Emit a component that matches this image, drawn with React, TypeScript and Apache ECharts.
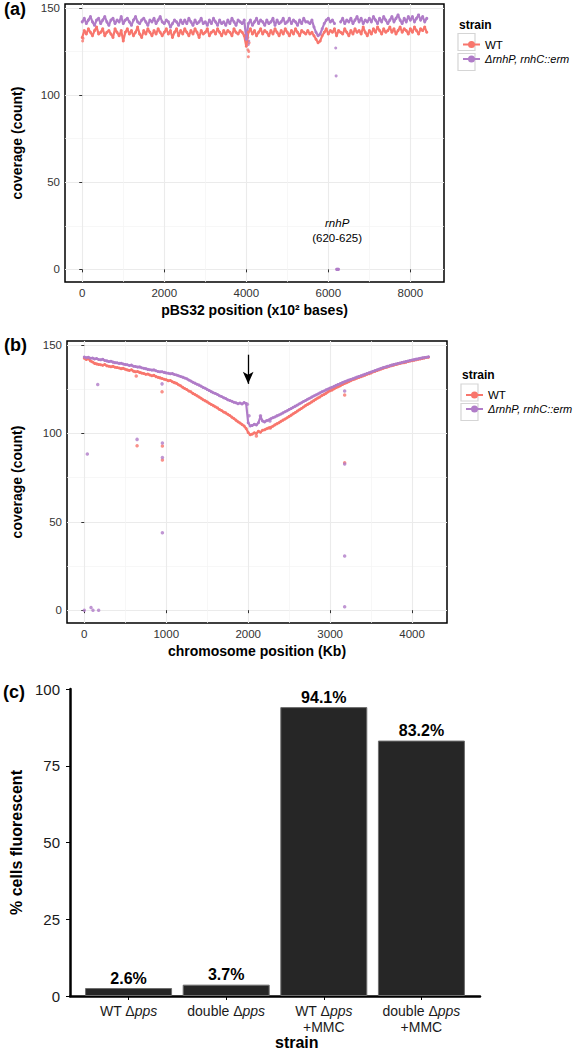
import React, { useEffect, useRef } from 'react';
import * as echarts from 'echarts';

const FONT = '"Liberation Sans", Arial, Helvetica, sans-serif';
const WT_COLOR = '#F8766D';
const MUT_COLOR = '#B07CC8';
const WT_NAME = 'WT';
const MUT_NAME = 'ΔrnhP, rnhC::erm';

// ---------- Panel (a): pBS32 coverage, bins every 50 (x10^2 bases) ----------
const A_START = 0;
const A_STEP = 50;
const A_WT = [
  133, 137, 135, 138, 136, 134, 137, 139, 135, 136,
  138, 134, 136, 137, 135, 133, 138, 136, 134, 137,
  131, 136, 138, 135, 137, 134, 136, 139, 135, 133,
  137, 135, 138, 136, 134, 137, 135, 138, 136, 134,
  136, 138, 135, 137, 133, 136, 138, 134, 137, 135,
  138, 136, 134, 137, 135, 138, 136, 133, 137, 135,
  136, 138, 134, 136, 137, 135, 138, 136, 134, 137,
  135, 137, 136, 134, 138, 136, 135, 137, 136, 134,
  128, 136, 138, 135, 137, 134, 136, 138, 135, 137,
  136, 134, 137, 135, 138, 136, 134, 137, 135, 138,
  136, 134, 137, 135, 138, 136, 134, 137, 136, 135,
  137, 135, 136, 134, 132, 130, 131, 134, 136, 138,
  135, 137, 136, 138, 134, 137, 136, 135, 138, 136,
  134, 137, 135, 138, 136, 137, 135, 139, 136, 134,
  137, 135, 138, 136, 139, 137, 135, 138, 136, 137,
  139, 136, 138, 135, 137, 139, 136, 138, 137, 135,
  138, 136, 139, 137, 135, 138, 137, 139, 136,
];
// null = deleted rnhP bins (plotted as the zero points in A_MUT_EXTRA)
const A_MUT = [
  142, 144, 141, 143, 145, 142, 140, 143, 144, 141,
  143, 145, 142, 140, 143, 144, 141, 143, 142, 145,
  141, 143, 144, 142, 140, 143, 145, 142, 141, 143,
  144, 142, 140, 143, 142, 144, 141, 143, 145, 142,
  141, 143, 142, 139, 141, 143, 142, 140, 143, 141,
  143, 141, 144, 142, 140, 143, 141, 142, 144, 141,
  142, 140, 143, 141, 144, 142, 140, 143, 141, 142,
  140, 143, 141, 144, 142, 140, 143, 142, 141, 143,
  132, 141, 143, 140, 142, 144, 141, 143, 142, 140,
  143, 141, 142, 144, 140, 143, 141, 142, 144, 141,
  142, 144, 141, 143, 142, 140, 143, 141, 144, 142,
  142, 141, 143, 139, 136, 134, 135, 138, 141, 143,
  144, 142, 143, 141, null, null, 142, 144, 141, 143,
  142, 144, 141, 143, 145, 142, 144, 141, 143, 142,
  144, 142, 145, 143, 141, 144, 142, 145, 143, 141,
  143, 145, 142, 144, 146, 143, 141, 144, 142, 145,
  143, 145, 142, 144, 146, 143, 145, 142, 144,
];
const A_WT_EXTRA = [[10, 131], [20, 132.5], [4030, 131], [4040, 126], [4050, 122], [4060, 125], [4070, 130]];
const A_MUT_EXTRA = [
  [4040, 133], [4050, 129], [4060, 131], [6180, 127], [6190, 111],
  [6200, 0], [6210, 0], [6220, 0], [6230, 0], [6240, 0], [6250, 0],
];
const A_X_TICKS = [0, 2000, 4000, 6000, 8000];
const A_X_MINOR = [1000, 3000, 5000, 7000];

// ---------- Panel (b): chromosome coverage, bins every 25 Kb ----------
const B_START = 0;
const B_STEP = 25;
const B_WT = [
  142.5, 141.8, 142.2, 141.0, 140.4, 139.6, 139.3, 139.0,
  138.8, 138.5, 138.9, 138.2, 138.0, 137.7, 137.9, 137.4,
  137.2, 137.0, 136.6, 136.8, 136.3, 135.9, 135.6, 136.0,
  135.2, 134.8, 135.0, 134.5, 134.1, 133.9, 133.4, 133.6,
  133.0, 132.6, 132.8, 132.1, 131.7, 131.4, 131.0, 130.6,
  130.3, 129.8, 129.9, 129.2, 128.7, 128.3, 127.5, 126.9,
  126.1, 125.4, 124.8, 124.0, 123.5, 122.6, 122.0, 121.3,
  120.6, 119.9, 119.0, 118.4, 117.8, 117.0, 116.3, 115.7,
  115.0, 114.4, 113.5, 112.9, 112.1, 111.6, 110.8, 110.1,
  109.2, 108.4, 107.5, 106.6, 105.9, 105.0, 104.2, 102.8,
  100.5, 99.2, 99.6, 100.3, 100.0, 101.2, 100.6, 101.8,
  102.0, 102.6, 103.1, 103.5, 104.0, 104.8, 105.4, 106.0,
  106.8, 107.5, 108.1, 108.8, 109.6, 110.3, 111.1, 111.8,
  112.6, 113.4, 114.1, 114.9, 115.7, 116.4, 117.0, 117.8,
  118.5, 119.3, 120.0, 120.6, 121.4, 122.0, 122.7, 123.5,
  124.1, 124.6, 125.3, 125.9, 126.4, 127.0, 127.6, 128.2,
  128.7, 129.2, 129.8, 130.3, 130.7, 131.2, 131.6, 132.1,
  132.5, 132.9, 133.4, 133.8, 134.2, 134.8, 135.1, 135.6,
  136.0, 136.4, 136.9, 137.2, 137.6, 138.0, 138.3, 138.6,
  138.9, 139.2, 139.5, 139.8, 140.0, 140.3, 140.6, 140.9,
  141.1, 141.4, 141.6, 141.9, 142.1, 142.4, 142.6, 142.9,
  143.1,
];
const B_MUT = [
  143.2, 142.8, 143.0, 142.5, 142.6, 142.1, 142.3, 141.8,
  141.6, 141.9, 141.2, 141.0, 140.6, 140.8, 140.3, 140.0,
  139.9, 139.6, 139.7, 139.2, 139.0, 138.8, 138.4, 138.6,
  138.0, 137.8, 137.5, 137.6, 137.1, 136.8, 136.6, 136.2,
  136.0, 135.8, 135.9, 135.4, 135.0, 134.8, 134.9, 134.5,
  134.2, 134.0, 133.7, 133.8, 133.3, 133.0, 132.6, 132.2,
  131.8, 131.3, 130.9, 130.2, 129.6, 128.9, 128.4, 127.8,
  127.3, 126.7, 126.0, 125.5, 124.8, 124.2, 123.6, 123.0,
  122.5, 122.0, 121.3, 120.8, 120.2, 119.7, 119.0, 118.6,
  118.2, 117.6, 117.3, 116.8, 117.2, 116.6, 117.4, 116.9,
  106.0, 104.2, 104.5, 105.2, 104.8, 106.0, 109.5, 107.0,
  106.5, 107.2, 107.6, 108.3, 108.8, 109.3, 109.9, 110.4,
  111.0, 111.6, 112.2, 112.8, 113.5, 114.1, 114.8, 115.4,
  116.0, 116.7, 117.3, 118.0, 118.6, 119.3, 119.9, 120.5,
  121.1, 121.7, 122.3, 122.9, 123.5, 124.0, 124.6, 125.1,
  125.6, 126.1, 126.6, 127.2, 127.7, 128.2, 128.7, 129.2,
  129.6, 130.1, 130.5, 130.9, 131.3, 131.8, 132.2, 132.6,
  133.0, 133.4, 133.9, 134.3, 134.7, 135.1, 135.6, 136.0,
  136.4, 136.8, 137.2, 137.5, 137.9, 138.2, 138.6, 138.9,
  139.2, 139.5, 139.8, 140.1, 140.4, 140.6, 140.9, 141.2,
  141.5, 141.7, 142.0, 142.2, 142.5, 142.7, 142.9, 143.1,
  143.3,
];
const B_WT_EXTRA = [
  [634, 132.5], [644, 93], [949, 123.6], [953, 92.9], [953, 84.9], [2100, 98.5],
  [2270, 103], [3177, 121.7], [3177, 83.4],
];
const B_MUT_EXTRA = [
  [0, 0], [37, 88.3], [82, 1.5], [106, 0], [164, 127.7], [175, 0], [644, 96.6],
  [949, 128], [953, 94.5], [953, 86.4], [953, 43.8], [1990, 116.5], [2010, 110],
  [2150, 110], [2265, 107], [3177, 124], [3177, 82.7], [3177, 30.6], [3177, 2],
];
const B_X_TICKS = [0, 1000, 2000, 3000, 4000];
const B_X_MINOR = [500, 1500, 2500, 3500];
const B_ARROW_X = 2000;

const COV_Y_TICKS = [0, 50, 100, 150];
const COV_Y_MINOR = [25, 75, 125];

// ---------- Panel (c): % cells fluorescent ----------
const C_CATEGORIES = ['WT Δpps', 'double Δpps', 'WT Δpps +MMC', 'double Δpps +MMC'];
const C_VALUES = [2.6, 3.7, 94.1, 83.2];
const C_POS = [1, 2, 3, 4];

const ICON = 'path://M0,7.6H17V9.4H0Z M5,8.5A3.5,3.5,0,1,1,12,8.5A3.5,3.5,0,1,1,5,8.5Z';

function pairs(start: number, step: number, vals: (number | null)[]) {
  return vals.map((v, i) => [start + i * step, v]);
}

function catLabel(name: string) {
  return name.replace('pps', '{i|pps}').replace(' +MMC', '\n+MMC');
}

function majorX(gridIndex: number, min: number, max: number, ticks: number[], name: string) {
  return {
    gridIndex, type: 'value', min, max,
    axisLine: { show: false },
    axisTick: { show: true, customValues: ticks, length: 3, lineStyle: { color: '#333', width: 1 } },
    axisLabel: { customValues: ticks, formatter: (v: number) => String(v), fontSize: 11.5, color: '#333', margin: 5, fontFamily: FONT },
    splitLine: { show: true, lineStyle: { color: '#ebebeb', width: 1.1 } },
    name, nameLocation: 'middle', nameGap: 21,
    nameTextStyle: { fontWeight: 'bold', fontSize: 14, color: '#000', fontFamily: FONT },
  };
}
function majorY(gridIndex: number, name: string, nameGap: number) {
  return {
    gridIndex, type: 'value', min: -7.25, max: 152.25,
    axisLine: { show: false },
    axisTick: { show: true, customValues: COV_Y_TICKS, length: 3, lineStyle: { color: '#333', width: 1 } },
    axisLabel: { customValues: COV_Y_TICKS, formatter: (v: number) => String(v), fontSize: 11.5, color: '#333', margin: 5, fontFamily: FONT },
    splitLine: { show: true, lineStyle: { color: '#ebebeb', width: 1.1 } },
    name, nameLocation: 'middle', nameGap,
    nameTextStyle: { fontWeight: 'bold', fontSize: 14, color: '#000', fontFamily: FONT },
  };
}
function minorAxis(gridIndex: number, min: number, max: number, values: number[]) {
  return {
    gridIndex, type: 'value', min, max, show: true,
    axisLine: { show: false },
    axisTick: { show: false, customValues: values },
    axisLabel: { show: false, customValues: values },
    splitLine: { show: true, lineStyle: { color: '#f4f4f4', width: 0.7 } },
  };
}

function legendFor(left: number, top: number, gap: number) {
  return {
    left, top, orient: 'vertical', itemWidth: 17, itemHeight: 17, itemGap: gap,
    selectedMode: false, symbolKeepAspect: true,
    data: [{ name: WT_NAME, icon: ICON }, { name: MUT_NAME, icon: ICON }],
    formatter: (n: string) => (n === MUT_NAME ? `{i|${n}}` : n),
    textStyle: {
      fontSize: 11.5, color: '#000', fontFamily: FONT,
      rich: { i: { fontStyle: 'italic', fontSize: 11, color: '#000', fontFamily: FONT } },
    },
  };
}

function keyBoxes(left: number, top: number, gap: number) {
  return [0, 1].map((k) => ({
    type: 'rect', z: 0,
    shape: { x: left, y: top + k * (17 + gap), width: 17, height: 17 },
    style: { fill: '#fff', stroke: '#d5d5d5', lineWidth: 1.2 },
  }));
}

function lineSeries(name: string, color: string, xi: number, data: any[], width: number, size: number) {
  return {
    type: 'line', name, xAxisIndex: xi, yAxisIndex: xi, silent: true,
    symbol: 'circle', symbolSize: size, showSymbol: true, showAllSymbol: true,
    connectNulls: false,
    itemStyle: { color }, lineStyle: { color, width },
    data,
  };
}
function dotSeries(name: string, color: string, xi: number, data: any[], size: number) {
  return {
    type: 'scatter', name, xAxisIndex: xi, yAxisIndex: xi, silent: true,
    symbol: 'circle', symbolSize: size, itemStyle: { color }, data,
  };
}

function buildOption() {
  return {
    animation: false,
    textStyle: { fontFamily: FONT },
    grid: [
      { left: 65, top: 4, width: 379, height: 278, show: true, borderColor: '#000', borderWidth: 1.5, backgroundColor: '#fff' },
      { left: 67, top: 341, width: 380, height: 282, show: true, borderColor: '#000', borderWidth: 1.5, backgroundColor: '#fff' },
      { left: 70, top: 689, width: 410, height: 307 },
    ],
    xAxis: [
      majorX(0, -420, 8820, A_X_TICKS, 'pBS32 position (x10² bases)'),
      minorAxis(0, -420, 8820, A_X_MINOR),
      majorX(1, -211, 4426, B_X_TICKS, 'chromosome position (Kb)'),
      minorAxis(1, -211, 4426, B_X_MINOR),
      {
        gridIndex: 2, type: 'value', min: 0.4, max: 4.6,
        axisLine: { show: true, lineStyle: { color: '#000', width: 2.5 } },
        axisTick: { show: true, customValues: C_POS, length: 4, lineStyle: { color: '#000', width: 1 } },
        axisLabel: {
          customValues: C_POS,
          formatter: (v: number) => catLabel(C_CATEGORIES[Math.round(v) - 1] || ''),
          fontSize: 14, lineHeight: 16, color: '#1a1a1a', margin: 7, fontFamily: FONT,
          rich: { i: { fontStyle: 'italic', fontSize: 14, lineHeight: 16, color: '#1a1a1a', fontFamily: FONT } },
        },
        splitLine: { show: false },
      },
    ],
    yAxis: [
      majorY(0, 'coverage (count)', 41),
      minorAxis(0, -7.25, 152.25, COV_Y_MINOR),
      majorY(1, 'coverage (count)', 43),
      minorAxis(1, -7.25, 152.25, COV_Y_MINOR),
      {
        gridIndex: 2, type: 'value', min: 0, max: 100, interval: 25,
        axisLine: { show: true, lineStyle: { color: '#000', width: 2.5 } },
        axisTick: { show: true, length: 4, lineStyle: { color: '#000', width: 1 } },
        axisLabel: { fontSize: 15, color: '#1a1a1a', margin: 10, fontFamily: FONT },
        splitLine: { show: false },
        name: '% cells fluorescent', nameLocation: 'middle', nameGap: 45,
        nameTextStyle: { fontWeight: 'bold', fontSize: 16, color: '#000', fontFamily: FONT },
      },
    ],
    legend: [legendFor(458, 33.5, 3), legendFor(461, 384, 2.5)],
    graphic: [
      ...keyBoxes(458, 33.5, 3),
      ...keyBoxes(461, 384, 2.5),
      { type: 'text', left: 4, top: 0, style: { text: '(a)', font: `bold 18px ${FONT}`, fill: '#000' } },
      { type: 'text', left: 4, top: 336, style: { text: '(b)', font: `bold 18px ${FONT}`, fill: '#000' } },
      { type: 'text', left: 3, top: 683, style: { text: '(c)', font: `bold 18px ${FONT}`, fill: '#000' } },
      { type: 'text', left: 459, top: 19, style: { text: 'strain', font: `bold 12px ${FONT}`, fill: '#000' } },
      { type: 'text', left: 462, top: 369, style: { text: 'strain', font: `bold 12px ${FONT}`, fill: '#000' } },
      { type: 'text', left: 275, top: 1034, style: { text: 'strain', font: `bold 16px ${FONT}`, fill: '#000' } },
    ],
    series: [
      lineSeries(WT_NAME, WT_COLOR, 0, pairs(A_START, A_STEP, A_WT), 2.2, 3),
      dotSeries(WT_NAME, WT_COLOR, 0, A_WT_EXTRA, 3),
      lineSeries(MUT_NAME, MUT_COLOR, 0, pairs(A_START, A_STEP, A_MUT), 2.2, 3),
      {
        ...dotSeries(MUT_NAME, MUT_COLOR, 0, A_MUT_EXTRA, 3),
        markPoint: {
          silent: true, symbol: 'circle', symbolSize: 0,
          label: {
            show: true, position: 'inside', formatter: '{i|rnhP}\n{n|(620-625)}',
            rich: {
              i: { fontStyle: 'italic', fontSize: 11.5, lineHeight: 15, color: '#000', fontFamily: FONT },
              n: { fontSize: 11.5, lineHeight: 15, color: '#000', fontFamily: FONT },
            },
          },
          data: [{ coord: [6215, 22.4] }],
        },
      },
      lineSeries(WT_NAME, WT_COLOR, 2, pairs(B_START, B_STEP, B_WT), 2.2, 3),
      dotSeries(WT_NAME, WT_COLOR, 2, B_WT_EXTRA, 3.5),
      lineSeries(MUT_NAME, MUT_COLOR, 2, pairs(B_START, B_STEP, B_MUT), 2.2, 3),
      {
        ...dotSeries(MUT_NAME, MUT_COLOR, 2, B_MUT_EXTRA, 3.5),
        markLine: {
          silent: true, symbol: ['none', 'arrow'], symbolSize: [8, 12],
          label: { show: false },
          lineStyle: { color: '#000', width: 1.3, type: 'solid' },
          data: [[{ coord: [B_ARROW_X, 144.5] }, { coord: [B_ARROW_X, 128] }]],
        },
      },
      {
        type: 'bar', name: 'strain', xAxisIndex: 4, yAxisIndex: 4, barWidth: 87, silent: true,
        itemStyle: { color: '#262626', borderColor: '#6e6e6e', borderWidth: 1 },
        label: {
          show: true, position: 'top', distance: 2,
          formatter: (p: any) => `${p.value[1]}%`,
          fontWeight: 'bold', fontSize: 16, color: '#000', fontFamily: FONT,
        },
        data: C_VALUES.map((v, i) => [C_POS[i], v]),
      },
    ],
  };
}

export default function App() {
  const ref = useRef<HTMLDivElement>(null);
  useEffect(() => {
    document.body.style.margin = '0';
    const chart = echarts.init(ref.current!, null, { renderer: 'svg' });
    chart.setOption(buildOption() as any);
    return () => chart.dispose();
  }, []);
  return <div ref={ref} style={{ width: 574, height: 1050 }} />;
}
